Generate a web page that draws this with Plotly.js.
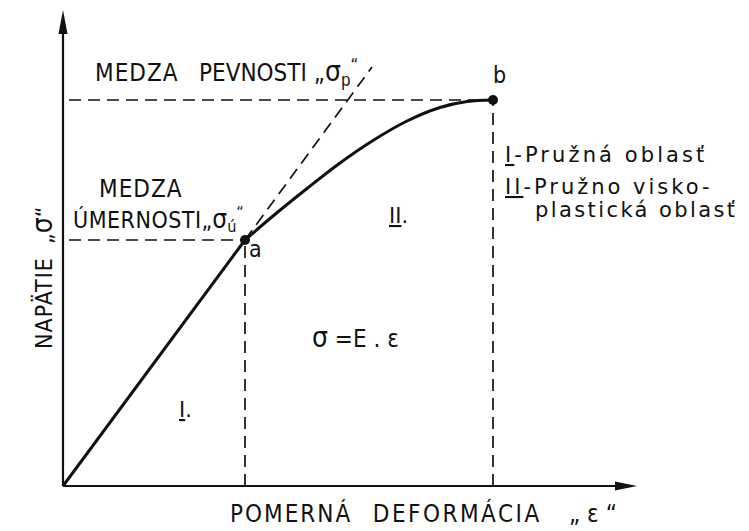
<!DOCTYPE html>
<html>
<head>
<meta charset="utf-8">
<script src="https://cdn.plot.ly/plotly-3.0.1.min.js"></script>
<style>html,body{margin:0;padding:0;background:#fff;}#chart{width:749px;height:531px;}</style>
</head>
<body>
<div id="chart"></div>
<script>
// ---- data (strain ε, stress σ in arbitrary units) ----
const strainMax = 5.74;   // x-axis arrow tip
const stressMax = 4.76;   // y-axis arrow tip
const strainLinear = [0, 1.82];
const stressLinear = [0, 2.46];
const strainCurve = [1.82, 2.10, 2.44, 2.77, 3.10, 3.44, 3.77, 4.04, 4.30];
const stressCurve = [2.46, 2.70, 2.975, 3.23, 3.455, 3.65, 3.785, 3.845, 3.86];
const pointNames = ['a', 'b'];
const pointStrain = [1.82, 4.30];
const pointStress = [2.46, 3.86];
const tangentStrain = [1.82, 3.09];
const tangentStress = [2.46, 4.19];
const guideStart = 0.06;

const COND = '"DejaVu Sans Condensed", "Liberation Sans Narrow", "DejaVu Sans", sans-serif';
const REG = '"DejaVu Sans", "Liberation Sans", sans-serif';
const ink = '#111';
const dashStyle = '12px,7px';

const traces = [];
// axes lines
traces.push({x: [0, strainMax - 0.2], y: [0, 0], mode: 'lines', line: {color: ink, width: 2.2}, cliponaxis: false, hoverinfo: 'skip'});
traces.push({x: [0, 0], y: [0, stressMax - 0.2], mode: 'lines', line: {color: ink, width: 2.2}, cliponaxis: false, hoverinfo: 'skip'});
// dashed guides from the points
for (let i = 0; i < pointNames.length; i++) {
  traces.push({x: [guideStart, pointStrain[i]], y: [pointStress[i], pointStress[i]], mode: 'lines', line: {color: ink, width: 1.7, dash: dashStyle}, hoverinfo: 'skip'});
  traces.push({x: [pointStrain[i], pointStrain[i]], y: [0, pointStress[i]], mode: 'lines', line: {color: ink, width: 1.7, dash: dashStyle}, hoverinfo: 'skip'});
}
// tangent (extension of linear part)
traces.push({x: tangentStrain, y: tangentStress, mode: 'lines', line: {color: ink, width: 1.7, dash: dashStyle}, hoverinfo: 'skip'});
// stress-strain curve
traces.push({x: strainLinear, y: stressLinear, mode: 'lines', line: {color: ink, width: 3}, hoverinfo: 'skip'});
traces.push({x: strainCurve, y: stressCurve, mode: 'lines', line: {color: ink, width: 3, shape: 'spline', smoothing: 1}, hoverinfo: 'skip'});
// points a, b
traces.push({x: pointStrain, y: pointStress, mode: 'markers', marker: {color: ink, size: 10}, hoverinfo: 'skip'});

function txt(x, y, text, size, family, opts) {
  return Object.assign({x: x, y: y, xref: 'x', yref: 'y', text: text, showarrow: false,
    font: {family: family || COND, size: size, color: ink}, xanchor: 'left', yanchor: 'middle'}, opts || {});
}
const NB = '\u00A0';
const sp = (t, ls) => '<span style="letter-spacing:' + ls + 'px">' + t + '</span>';
const big = (t, s) => '<span style="font-size:' + s + 'px">' + t + '</span>';
const annotations = [
  txt(0.30, 4.14, sp('MEDZA', 1) + NB + NB + NB + sp('PEVNOSTI', 0) + NB + '„' + big('σ', 28) + '<sub>p</sub><sup>“</sup>', 24),
  txt(pointStrain[1] + 0.06, pointStress[1] + 0.25, pointNames[1], 23, COND, {xanchor: 'center'}),
  txt(0.34, 2.97, sp('MEDZA', 1), 24),
  txt(0.08, 2.67, sp('ÚMERNOSTI', 0.5) + '„' + big('σ', 26) + '<sub>ú</sub><sup>“</sup>', 23),
  txt(pointStrain[0] + 0.10, pointStress[0] - 0.09, pointNames[0], 23, COND, {xanchor: 'center'}),
  txt(3.35, 2.70, '<u>II</u>.', 21, REG, {xanchor: 'center'}),
  txt(1.22, 0.76, '<u>I</u>.', 21, REG, {xanchor: 'center'}),
  txt(4.40, 3.31, sp('<u>I</u>-Pružná' + NB + 'oblasť', 3.1), 21, REG),
  txt(4.40, 2.99, sp('<u>II</u>-Pružno' + NB + 'visko-', 3.0), 21, REG),
  txt(4.70, 2.76, sp('plastická' + NB + 'oblasť', 2.4), 21, REG),
  txt(2.47, 1.49, big('σ', 28) + NB + '=E' + NB + '.' + NB + 'ε', 24),
  txt(-0.21, 2.08, sp('NAPÄTIE', 1) + NB + NB + '„' + big('σ', 28) + '“', 23, COND, {xanchor: 'center', textangle: -90}),
  txt(1.65, -0.27, sp('POMERNÁ', 2) + NB + NB + NB + sp('DEFORMÁCIA', 2.5) + NB + NB + NB + NB + '„' + NB + 'ε' + NB + '“', 24)
];

const shapes = [
  {type: 'path', xref: 'x', yref: 'y', xsizemode: 'pixel', ysizemode: 'pixel', xanchor: 0, yanchor: stressMax,
   path: 'M0,0 L-4.5,-24 L4.5,-24 Z', fillcolor: ink, line: {width: 0}},
  {type: 'path', xref: 'x', yref: 'y', xsizemode: 'pixel', ysizemode: 'pixel', xanchor: strainMax, yanchor: 0,
   path: 'M0,0 L-22,4.5 L-22,-4.5 Z', fillcolor: ink, line: {width: 0}}
];

const layout = {
  width: 749, height: 531,
  margin: {l: 33, r: 86, t: 0, b: 5},
  paper_bgcolor: '#fff', plot_bgcolor: '#fff',
  showlegend: false,
  xaxis: {range: [-0.3, 6.0], visible: false, fixedrange: true},
  yaxis: {range: [-0.4, 4.86], visible: false, fixedrange: true},
  annotations: annotations,
  shapes: shapes
};

Plotly.newPlot('chart', traces, layout, {staticPlot: true, displayModeBar: false});
</script>
</body>
</html>
